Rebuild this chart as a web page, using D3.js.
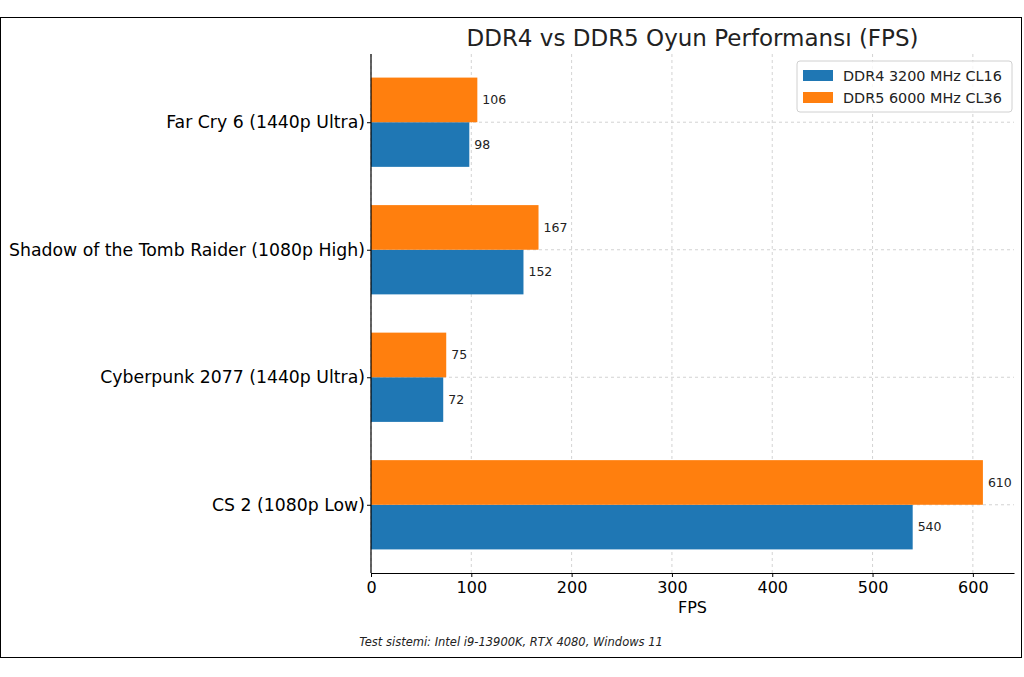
<!DOCTYPE html>
<html>
<head>
<meta charset="utf-8">
<script src="https://cdn.jsdelivr.net/npm/d3@7"></script>
<style>
  html, body { margin: 0; padding: 0; background: #fff; }
  svg { display: block; font-family: "DejaVu Sans", sans-serif; }
</style>
</head>
<body>
<div id="chart"></div>
<script>
// data
const games = [
    "Far Cry 6 (1440p Ultra)",
    "Shadow of the Tomb Raider (1080p High)",
    "Cyberpunk 2077 (1440p Ultra)",
    "CS 2 (1080p Low)"
];
const ddr4Fps = [98, 152, 72, 540];
const ddr5Fps = [106, 167, 75, 610];
const seriesNames = ["DDR4 3200 MHz CL16", "DDR5 6000 MHz CL36"];
const seriesColors = ["#1f77b4", "#ff7f0e"];
const xTicks = [0, 100, 200, 300, 400, 500, 600];

const W = 1024, H = 677;
const margin = { top: 54, right: 10, bottom: 104, left: 371 };
const width = 1014 - margin.left;
const height = 573 - margin.top;

const svg = d3.select("#chart").append("svg")
    .attr("width", W)
    .attr("height", H);

// figure frame
svg.append("rect")
    .attr("x", 0.5).attr("y", 17.5)
    .attr("width", 1021).attr("height", 640)
    .attr("fill", "#fff")
    .attr("stroke", "#000")
    .attr("stroke-width", 1);

const g = svg.append("g")
    .attr("transform", `translate(${margin.left},${margin.top})`);

const x = d3.scaleLinear()
    .domain([0, 641])
    .range([0, width]);

// category positions, matplotlib style: index 0 at top
const barH = 0.35;
const y = d3.scaleLinear()
    .domain([-0.535, games.length - 1 + 0.535])
    .range([0, height]);

// grid
g.append("g")
    .selectAll("line")
    .data(xTicks)
    .join("line")
    .attr("x1", d => x(d)).attr("x2", d => x(d))
    .attr("y1", 0).attr("y2", height)
    .attr("stroke", "#c8c8c8")
    .attr("stroke-width", 0.8)
    .attr("stroke-dasharray", "3,3");

g.append("g")
    .selectAll("line")
    .data(games)
    .join("line")
    .attr("x1", 0).attr("x2", width)
    .attr("y1", (d, i) => y(i)).attr("y2", (d, i) => y(i))
    .attr("stroke", "#c8c8c8")
    .attr("stroke-width", 0.8)
    .attr("stroke-dasharray", "3,3");

// bars
const series = [ddr4Fps, ddr5Fps];
series.forEach((vals, s) => {
    // DDR5 above the center line, DDR4 below it
    const off = s === 1 ? -barH : 0;
    g.append("g")
        .selectAll("rect")
        .data(vals)
        .join("rect")
        .attr("x", x(0))
        .attr("y", (d, i) => y(i + off))
        .attr("width", d => x(d) - x(0))
        .attr("height", y(barH) - y(0))
        .attr("fill", seriesColors[s]);

    g.append("g")
        .selectAll("text")
        .data(vals)
        .join("text")
        .attr("x", d => x(d) + 5)
        .attr("y", (d, i) => y(i + off + barH / 2))
        .attr("dy", "0.35em")
        .attr("font-size", 12.5)
        .attr("fill", "#222")
        .text(d => d);
});

// axes
const xAxis = g.append("g")
    .attr("transform", `translate(0,${height})`)
    .call(d3.axisBottom(x).tickValues(xTicks).tickSize(4).tickSizeOuter(0).tickPadding(5));
xAxis.select(".domain").attr("stroke", "#000").attr("stroke-width", 1.2);
xAxis.selectAll("text").attr("font-size", 16).attr("fill", "#000")
    .attr("font-family", "DejaVu Sans, sans-serif");

const yAxis = g.append("g")
    .call(d3.axisLeft(y)
        .tickValues(d3.range(games.length))
        .tickFormat(i => games[i])
        .tickSize(4).tickSizeOuter(0).tickPadding(2));
yAxis.select(".domain").attr("stroke", "#000").attr("stroke-width", 1.2)
    .attr("d", `M0,0V${height}`);
yAxis.selectAll("text").attr("font-size", 17.3).attr("fill", "#000")
    .attr("font-family", "DejaVu Sans, sans-serif");

// axis label
g.append("text")
    .attr("x", width / 2)
    .attr("y", height + 40)
    .attr("text-anchor", "middle")
    .attr("font-size", 16)
    .text("FPS");

// title
svg.append("text")
    .attr("x", margin.left + width / 2)
    .attr("y", 46)
    .attr("text-anchor", "middle")
    .attr("font-size", 23)
    .attr("fill", "#222")
    .text("DDR4 vs DDR5 Oyun Performansı (FPS)");

// legend
const lg = svg.append("g").attr("transform", "translate(797,61)");
lg.append("rect")
    .attr("width", 215).attr("height", 51)
    .attr("rx", 3)
    .attr("fill", "#fff")
    .attr("fill-opacity", 0.8)
    .attr("stroke", "#d0d0d0");
seriesNames.forEach((name, i) => {
    const row = lg.append("g").attr("transform", `translate(6,${8 + i * 22})`);
    row.append("rect")
        .attr("width", 30).attr("height", 11)
        .attr("y", 1)
        .attr("fill", seriesColors[i]);
    row.append("text")
        .attr("x", 40).attr("y", 7)
        .attr("dy", "0.35em")
        .attr("font-size", 14.4)
        .attr("fill", "#222")
        .text(name);
});

// footer
svg.append("text")
    .attr("x", 511)
    .attr("y", 646)
    .attr("text-anchor", "middle")
    .attr("font-size", 11.5)
    .attr("font-style", "italic")
    .attr("fill", "#222")
    .text("Test sistemi: Intel i9-13900K, RTX 4080, Windows 11");
</script>
</body>
</html>
